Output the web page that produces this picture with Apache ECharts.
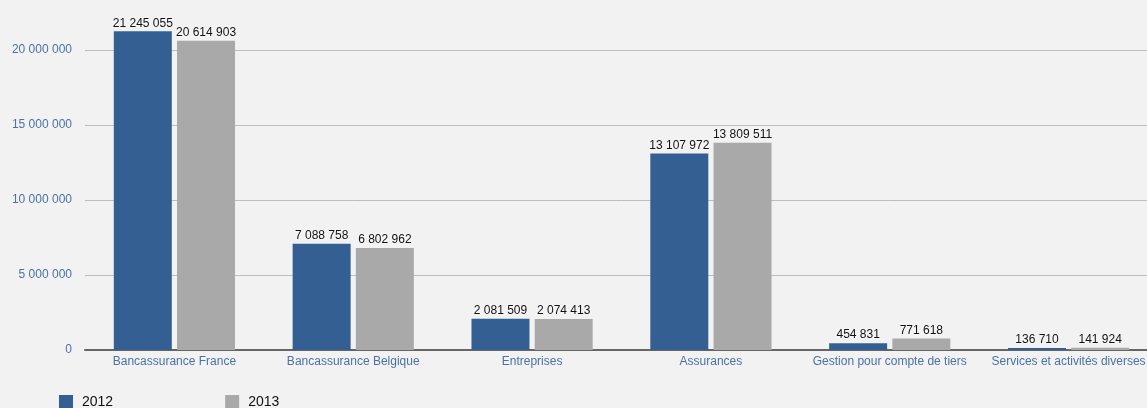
<!DOCTYPE html>
<html><head><meta charset="utf-8">
<script src="https://cdn.jsdelivr.net/npm/echarts@6/dist/echarts.min.js"></script>
<style>html,body{margin:0;padding:0;background:#f2f2f2;overflow:hidden;width:1147px;height:408px;}#c{width:1158px;height:408px;}</style>
</head><body><div id="c"></div>
<script>
const categories = ["Bancassurance France","Bancassurance Belgique","Entreprises","Assurances","Gestion pour compte de tiers","Services et activités diverses"];
const seriesNames = ["2012","2013"];
const values2012 = [21245055, 7088758, 2081509, 13107972, 454831, 136710];
const values2013 = [20614903, 6802962, 2074413, 13809511, 771618, 141924];
const colors = ["#345f92", "#a9a9a9"];

function fmt(v){ return String(v).replace(/\B(?=(\d{3})+(?!\d))/g, " "); }
const font = "'Liberation Sans', Arial, sans-serif";
const chart = echarts.init(document.getElementById('c'));
const labelCfg = {
  show: true, position: 'top', distance: 2, color: '#111', fontSize: 12, fontFamily: font,
  textShadowColor: '#fff', textShadowBlur: 3,
  formatter: p => fmt(p.value)
};
chart.setOption({
  backgroundColor: '#f2f2f2',
  animation: false,
  grid: { left: 85, right: 0, top: 50, bottom: 58 },
  legend: {
    left: 54, top: 390, itemWidth: 14, itemHeight: 14, itemGap: 112,
    icon: 'rect',
    textStyle: { color: '#111', fontSize: 14, fontFamily: font, padding: [0, 0, 0, 4] },
    data: seriesNames
  },
  xAxis: {
    type: 'category', data: categories,
    axisLine: { lineStyle: { color: '#666', width: 2 } },
    axisTick: { show: false },
    axisLabel: { color: '#4a72a6', fontSize: 12, fontFamily: font, margin: 6, interval: 0 }
  },
  yAxis: {
    type: 'value', min: 0, max: 20000000, interval: 5000000,
    axisLine: { show: false }, axisTick: { show: false },
    splitLine: { lineStyle: { color: '#bdbdbd', width: 1 } },
    axisLabel: { color: '#4a72a6', fontSize: 12, fontFamily: font, margin: 13, formatter: v => fmt(v) }
  },
  series: [
    { name: seriesNames[0], type: 'bar', data: values2012, barWidth: 58, barGap: '9%', clip: false,
      itemStyle: { color: colors[0] }, label: labelCfg },
    { name: seriesNames[1], type: 'bar', data: values2013, barWidth: 58, barGap: '9%', clip: false,
      itemStyle: { color: colors[1] }, label: labelCfg }
  ]
});
</script></body></html>
